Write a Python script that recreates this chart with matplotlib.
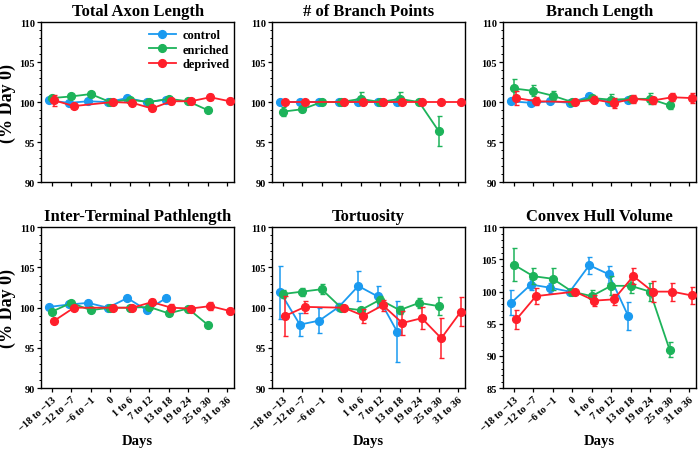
import numpy as np
import matplotlib
matplotlib.use("Agg")
import matplotlib.pyplot as plt
from matplotlib.ticker import MultipleLocator
from matplotlib.lines import Line2D

plt.rcParams['font.family'] = ['Liberation Serif', 'DejaVu Serif']
plt.rcParams['font.weight'] = 'bold'

categories = ["\u221218 to \u221213", "\u221212 to \u22127", "\u22126 to \u22121", "0", "1 to 6",
              "7 to 12", "13 to 18", "19 to 24", "25 to 30", "31 to 36"]
titles = ["Total Axon Length", "# of Branch Points", "Branch Length",
          "Inter-Terminal Pathlength", "Tortuosity", "Convex Hull Volume"]
series_names = ["control", "enriched", "deprived"]
nan = np.nan

# control: 7 points (-18..13to18); enriched: 9 points; deprived: 10 slots (missing -6 to -1)
control_vals = [
    [100.2, 99.9, 100.1, 100.0, 100.5, 100.0, 100.3],
    [100.0, 100.0, 100.0, 100.0, 100.0, 100.0, 100.0],
    [100.1, 99.9, 100.1, 99.9, 100.7, 100.0, 100.3],
    [100.1, 100.4, 100.6, 100.0, 101.2, 99.7, 101.2],
    [101.9, 97.9, 98.4, 100.1, 102.7, 101.4, 97.0],
    [98.3, 101.1, 100.6, 100.0, 104.1, 102.7, 96.2],
]
control_err = [
    [0.2, 0.2, 0.2, 0.0, 0.2, 0.2, 0.2],
    [0.1, 0.1, 0.1, 0.0, 0.1, 0.1, 0.1],
    [0.2, 0.2, 0.2, 0.0, 0.3, 0.2, 0.2],
    [0.2, 0.2, 0.2, 0.0, 0.2, 0.2, 0.2],
    [3.25, 1.4, 1.6, 0.5, 1.9, 1.3, 3.8],
    [1.9, 0.8, 0.8, 0.0, 1.3, 1.3, 2.2],
]
enriched_vals = [
    [100.5, 100.7, 101.0, 100.0, 100.3, 100.0, 100.4, 100.1, 99.0],
    [98.8, 99.1, 100.0, 100.0, 100.4, 100.0, 100.4, 100.0, 96.4],
    [101.7, 101.4, 100.8, 100.0, 100.5, 100.3, 100.4, 100.4, 99.6],
    [99.5, 100.6, 99.7, 100.0, 100.0, 100.1, 99.3, 99.9, 97.9],
    [101.7, 102.0, 102.3, 100.0, 99.7, 101.0, 99.7, 100.6, 100.2],
    [104.2, 102.4, 102.0, 100.0, 99.3, 100.9, 100.9, 100.0, 91.0],
]
enriched_err = [
    [0.2, 0.2, 0.3, 0.0, 0.2, 0.2, 0.2, 0.2, 0.3],
    [0.6, 0.4, 0.1, 0.0, 0.8, 0.1, 0.8, 0.1, 1.9],
    [1.2, 0.7, 0.6, 0.0, 0.4, 0.7, 0.4, 0.7, 0.5],
    [0.2, 0.2, 0.2, 0.0, 0.2, 0.2, 0.2, 0.2, 0.2],
    [0.5, 0.5, 0.6, 0.0, 0.3, 0.4, 0.5, 0.6, 1.1],
    [2.6, 1.2, 1.7, 0.0, 0.9, 1.5, 1.1, 1.4, 1.2],
]
deprived_vals = [
    [100.2, 99.5, nan, 100.0, 99.9, 99.2, 100.1, 100.1, 100.6, 100.1],
    [100.0, 100.0, nan, 100.0, 100.0, 100.0, 100.0, 100.0, 100.0, 100.0],
    [100.5, 100.1, nan, 100.0, 100.3, 99.9, 100.4, 100.2, 100.6, 100.5],
    [98.4, 100.0, nan, 100.0, 100.0, 100.7, 100.0, 99.9, 100.2, 99.6],
    [99.0, 100.1, nan, 100.0, 99.0, 100.3, 98.1, 98.7, 96.2, 99.5],
    [95.7, 99.3, nan, 100.0, 98.6, 98.8, 102.4, 100.0, 100.0, 99.4],
]
deprived_err = [
    [0.7, 0.3, nan, 0.0, 0.2, 0.3, 0.4, 0.3, 0.4, 0.4],
    [0.1, 0.1, nan, 0.0, 0.1, 0.1, 0.1, 0.1, 0.1, 0.1],
    [0.9, 0.5, nan, 0.0, 0.4, 0.6, 0.5, 0.4, 0.5, 0.6],
    [0.2, 0.2, nan, 0.0, 0.2, 0.4, 0.5, 0.2, 0.5, 0.4],
    [2.5, 0.7, nan, 0.0, 0.9, 0.7, 1.5, 1.4, 2.5, 1.8],
    [1.5, 1.2, nan, 0.0, 0.8, 0.9, 1.2, 1.6, 1.4, 1.3],
]
ylims = [(90, 110)] * 5 + [(85, 110)]

colors = ['#1a9af0', '#1db35a', '#ff1f2b']
offsets = [-0.12, 0.0, 0.14]

fig = plt.figure(figsize=(7.0, 4.52), dpi=100)
lefts = [0.0586, 0.3886, 0.7186]
w = 0.276
rows = [(0.595, 0.354), (0.139, 0.356)]

all_vals = [control_vals, enriched_vals, deprived_vals]
all_errs = [control_err, enriched_err, deprived_err]

for i in range(6):
    r, c = divmod(i, 3)
    ax = fig.add_axes([lefts[c], rows[r][0], w, rows[r][1]])
    for s in range(3):
        v = np.array(all_vals[s][i], dtype=float)
        e = np.array(all_errs[s][i], dtype=float)
        x = np.arange(len(v)) + offsets[s]
        m = ~np.isnan(v)
        ax.errorbar(x[m], v[m], yerr=e[m], color=colors[s], marker='o', ms=5.6,
                    lw=1.3, elinewidth=1.1, capsize=1.8, capthick=1.0,
                    zorder=3 + s)
    ax.set_xlim(-0.55, 9.37)
    ax.set_ylim(*ylims[i])
    ax.yaxis.set_major_locator(MultipleLocator(5))
    ax.yaxis.set_minor_locator(MultipleLocator(1))
    ax.set_xticks(np.arange(len(categories)))
    ax.tick_params(axis='both', which='major', direction='out', length=3, width=0.9,
                   labelsize=7.5, pad=1.5)
    ax.tick_params(axis='y', which='minor', direction='out', length=1.6, width=0.7)
    ax.tick_params(top=False, right=False)
    for sp in ax.spines.values():
        sp.set_linewidth(1.0)
    for lab in ax.get_yticklabels():
        lab.set_fontweight('bold')
    if r == 1:
        ax.set_xticklabels(categories, rotation=42, ha='right', rotation_mode='anchor',
                           fontsize=7.5, fontweight='bold')
        ax.set_xlabel('Days', fontsize=10.5, fontweight='bold', labelpad=1)
    else:
        ax.set_xticklabels([])
    if c == 0:
        ax.set_ylabel('(% Day 0)', fontsize=13, fontweight='bold')
        ax.yaxis.set_label_coords(-0.13, 0.5)
    ax.set_title(titles[i], fontsize=12, fontweight='bold', pad=5)
    if i == 0:
        handles = [Line2D([], [], color=colors[s], marker='o', ms=5.6, lw=1.3)
                   for s in range(3)]
        ax.legend(handles, series_names, loc='upper right', frameon=False, fontsize=9,
                  handlelength=2.2, borderaxespad=0.3, labelspacing=0.2,
                  handletextpad=0.5, bbox_to_anchor=(1.02, 1.01))

fig.savefig('out.png', dpi=100)
